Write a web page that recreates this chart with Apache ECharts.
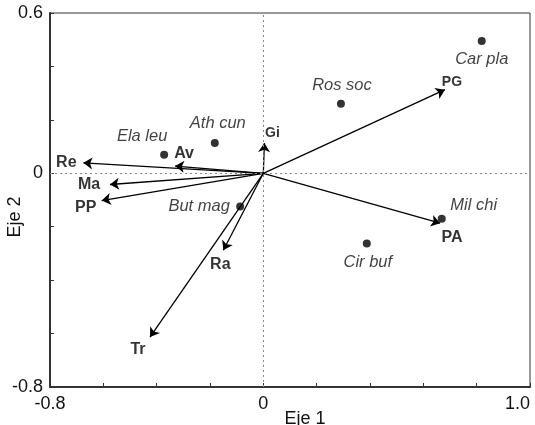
<!DOCTYPE html>
<html>
<head>
<meta charset="utf-8">
<script src="https://cdn.jsdelivr.net/npm/echarts@6/dist/echarts.min.js"></script>
<style>
  html, body { margin: 0; padding: 0; background: #fff; }
  #chart { width: 535px; height: 425px; }
</style>
</head>
<body>
<div id="chart"></div>
<script>
// species scores (dots)
var species = ['Car pla', 'Ros soc', 'Ath cun', 'Ela leu', 'But mag', 'Mil chi', 'Cir buf'];
var speciesX = [0.819, 0.291, -0.182, -0.372, -0.087, 0.669, 0.388];
var speciesY = [0.495, 0.26, 0.113, 0.069, -0.124, -0.17, -0.263];

// environmental variables (arrows from origin)
var vars = ['Re', 'Av', 'Ma', 'PP', 'Gi', 'PG', 'PA', 'Ra', 'Tr'];
var varsX = [-0.675, -0.331, -0.575, -0.606, 0.004, 0.681, 0.663, -0.15, -0.425];
var varsY = [0.039, 0.027, -0.042, -0.102, 0.113, 0.313, -0.187, -0.288, -0.613];

// labelled ticks
var xTicks = [-0.8, 0, 1.0];
var xTickText = ['-0.8', '0', '1.0'];
var yTicks = [0.6, 0, -0.8];
var yTickText = ['0.6', '0', '-0.8'];

// label placement (pixels from the point)
var speciesLabelOffset = [[0, 18], [1, -18], [3, -20], [-22, -18], [-41, 0], [32, -13], [1, 19]];
var varsLabelOffset = [[-17, 0], [9, -12], [-21, 0], [-16, 7], [8, -10], [7, -8], [12, 14], [-3, 14], [-12, 13]];
var varsFontSize = [16, 16, 16, 16, 14, 14, 16, 16, 16];

function tickFormatter(ticks, texts) {
  return function (v) {
    for (var i = 0; i < ticks.length; i++) {
      if (Math.abs(v - ticks[i]) < 1e-6) return texts[i];
    }
    return '';
  };
}

var fontFamily = "'Liberation Sans', Arial, sans-serif";

var speciesData = species.map(function (n, i) {
  return {
    name: n,
    value: [speciesX[i], speciesY[i]],
    label: { offset: speciesLabelOffset[i] }
  };
});

var arrowData = vars.map(function (n, i) {
  return { name: n, coords: [[0, 0], [varsX[i], varsY[i]]] };
});

var varLabelData = vars.map(function (n, i) {
  return {
    name: n,
    value: [varsX[i], varsY[i]],
    label: { offset: varsLabelOffset[i], fontSize: varsFontSize[i] }
  };
});

var chart = echarts.init(document.getElementById('chart'));

var option = {
  animation: false,
  backgroundColor: '#fff',
  grid: {
    left: 50, right: 5, top: 13, bottom: 38,
    containLabel: false,
    outerBoundsMode: 'none',
    show: true, borderColor: '#333', borderWidth: 1, backgroundColor: 'transparent'
  },
  xAxis: {
    type: 'value',
    min: -0.8, max: 1.0, interval: 0.2,
    name: 'Eje 1',
    nameLocation: 'middle',
    nameGap: 23,
    nameMoveOverlap: false,
    nameTextStyle: { fontSize: 18, color: '#111', fontFamily: fontFamily, padding: [0, 0, 0, 30] },
    axisLine: { onZero: false, lineStyle: { color: '#333', width: 2 } },
    axisTick: { inside: true, length: 4, lineStyle: { color: '#333', width: 1 } },
    axisLabel: {
      formatter: tickFormatter(xTicks, xTickText),
      fontSize: 18, color: '#111', fontFamily: fontFamily, margin: 8,
      showMaxLabel: true, showMinLabel: true, alignMaxLabel: 'right'
    },
    splitLine: { show: false }
  },
  yAxis: {
    type: 'value',
    min: -0.8, max: 0.6, interval: 0.2,
    name: 'Eje 2',
    nameLocation: 'middle',
    nameGap: 26,
    nameMoveOverlap: false,
    nameTextStyle: { fontSize: 18, color: '#111', fontFamily: fontFamily, padding: [0, 34, 0, 0] },
    axisLine: { onZero: false, lineStyle: { color: '#333', width: 2 } },
    axisTick: { inside: true, length: 4, lineStyle: { color: '#333', width: 1 } },
    axisLabel: {
      formatter: tickFormatter(yTicks, yTickText),
      fontSize: 18, color: '#111', fontFamily: fontFamily, margin: 7,
      showMaxLabel: true, showMinLabel: true
    },
    splitLine: { show: false }
  },
  series: [
    {
      // dotted reference lines through origin
      type: 'scatter',
      data: [],
      silent: true,
      markLine: {
        silent: true,
        symbol: 'none',
        label: { show: false },
        lineStyle: { type: [2, 3], color: '#888', width: 1 },
        data: [{ xAxis: 0 }, { yAxis: 0 }]
      }
    },
    {
      type: 'lines',
      coordinateSystem: 'cartesian2d',
      symbol: ['none', 'arrow'],
      symbolSize: 9,
      silent: true,
      lineStyle: { color: '#000', width: 1.3, opacity: 1 },
      data: arrowData
    },
    {
      type: 'scatter',
      symbolSize: 0,
      silent: true,
      label: {
        show: true,
        position: 'inside',
        formatter: '{b}',
        fontWeight: 'bold',
        fontSize: 16,
        color: '#000',
        fontFamily: fontFamily
      },
      data: varLabelData
    },
    {
      type: 'scatter',
      symbol: 'circle',
      symbolSize: 8,
      silent: true,
      itemStyle: { color: '#000' },
      label: {
        show: true,
        position: 'inside',
        formatter: '{b}',
        fontStyle: 'italic',
        fontSize: 16.5,
        color: '#111',
        fontFamily: fontFamily
      },
      data: speciesData
    }
  ]
};

chart.setOption(option);
</script>
</body>
</html>
